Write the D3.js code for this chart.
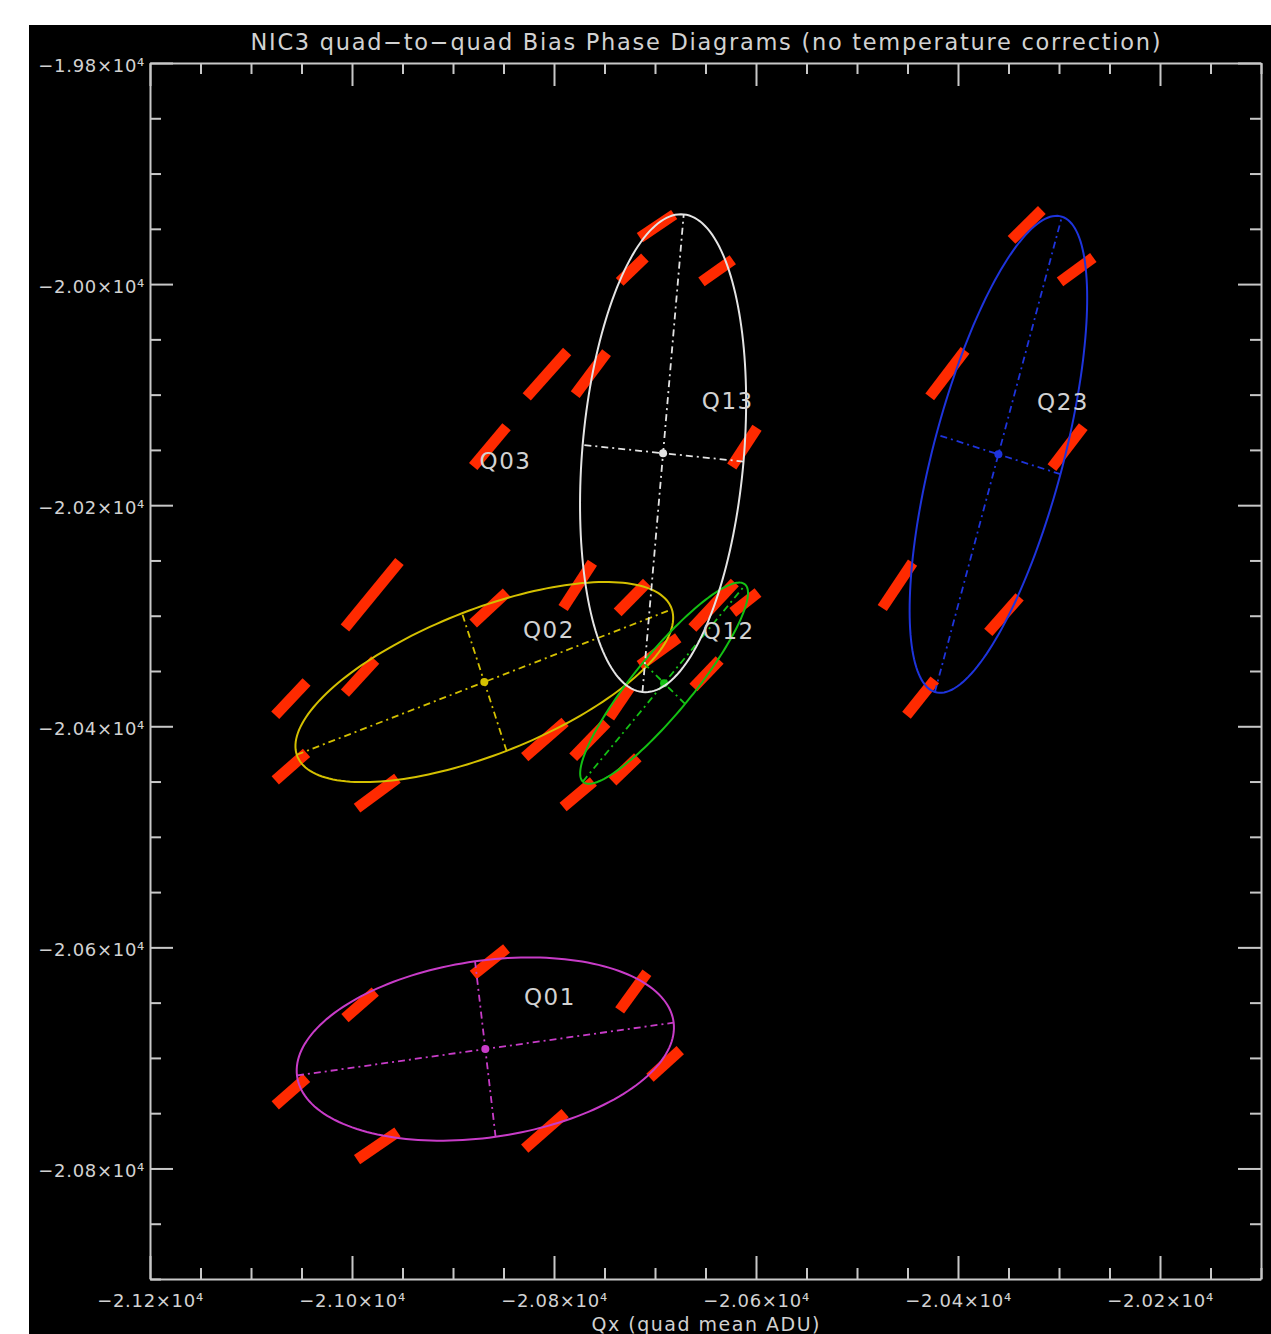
<!DOCTYPE html>
<html>
<head>
<meta charset="utf-8">
<script src="https://cdn.jsdelivr.net/npm/d3@7"></script>
<style>
  html, body { margin: 0; padding: 0; background: #ffffff; }
  svg { display: block; }
  text { font-family: "DejaVu Sans", "Liberation Sans", sans-serif; fill: #d2d2d2; }
</style>
</head>
<body>
<svg id="chart" width="1271" height="1334"></svg>
<script>
// ---- Axis ranges and tick values (ADU) ----
const xDomain = [-21200, -20100];
const yDomain = [-19800, -20900];
const xMajorTicks = [-21200, -21000, -20800, -20600, -20400, -20200];
const xTickLabels = ["\u22122.12\u00d710\u2074", "\u22122.10\u00d710\u2074", "\u22122.08\u00d710\u2074",
                     "\u22122.06\u00d710\u2074", "\u22122.04\u00d710\u2074", "\u22122.02\u00d710\u2074"];
const yMajorTicks = [-19800, -20000, -20200, -20400, -20600, -20800];
const yTickLabels = ["\u22121.98\u00d710\u2074", "\u22122.00\u00d710\u2074", "\u22122.02\u00d710\u2074",
                     "\u22122.04\u00d710\u2074", "\u22122.06\u00d710\u2074", "\u22122.08\u00d710\u2074"];
const minorStep = 50;

const titleText = "NIC3 quad\u2212to\u2212quad Bias Phase Diagrams (no temperature correction)";
const xTitleText = "Qx  (quad mean ADU)";

// ---- Quad pairs: fitted ellipse centres, semi-axes and tilt (data units / degrees) ----
const quadNames = ["Q01", "Q02", "Q03", "Q12", "Q13", "Q23"];
const centerX   = [-20868, -20869, -20912, -20691, -20692, -20360];
const centerY   = [-20692, -20360, -20207, -20361, -20153, -20154];
const semiMajor = [188, 197, null, 120, 217, 224];
const semiMinor = [80, 66, null, 28, 80, 64];
const tiltDeg   = [7.3, 19.5, null, 47.9, 84.6, 73.7];
const labelX    = [-20804, -20805, -20848, -20627, -20628, -20296];
const labelY    = [-20645, -20313, -20160, -20314, -20106, -20107];

// ---- Measured phase clusters per quad pair: [x1, y1, x2, y2] ----
const streaksQ01 = [
  [-20880, -20625, -20847, -20601], [-21007, -20664, -20977, -20640],
  [-20735, -20657, -20708, -20623], [-21076, -20743, -21045, -20718],
  [-20705, -20718, -20675, -20693], [-20995, -20792, -20955, -20767],
  [-20829, -20782, -20789, -20750]
];
const streaksQ02 = [
  [-20880, -20307, -20847, -20279], [-21007, -20370, -20977, -20340],
  [-21076, -20449, -21045, -20424], [-20995, -20474, -20955, -20447],
  [-20829, -20428, -20789, -20396], [-20791, -20293, -20762, -20252],
  [-20737, -20297, -20708, -20270]
];
const streaksQ03 = [
  [-20827, -20102, -20787, -20061], [-20880, -20165, -20847, -20129],
  [-21007, -20311, -20953, -20251], [-21076, -20390, -21045, -20360]
];
const streaksQ12 = [
  [-20663, -20311, -20621, -20270], [-20623, -20297, -20598, -20279],
  [-20662, -20365, -20636, -20340], [-20745, -20392, -20725, -20365],
  [-20742, -20450, -20717, -20428], [-20791, -20473, -20761, -20450],
  [-20781, -20428, -20748, -20397]
];
const streaksQ13 = [
  [-20715, -19958, -20681, -19937], [-20735, -19998, -20710, -19976],
  [-20654, -19998, -20623, -19978], [-20779, -20100, -20748, -20062],
  [-20624, -20165, -20599, -20130], [-20715, -20345, -20677, -20320]
];
const streaksQ23 = [
  [-20347, -19960, -20317, -19933], [-20299, -19998, -20266, -19976],
  [-20428, -20102, -20393, -20060], [-20307, -20166, -20276, -20129],
  [-20475, -20293, -20445, -20252], [-20370, -20315, -20339, -20283],
  [-20451, -20390, -20423, -20358]
];
const streaksByQuad = [streaksQ01, streaksQ02, streaksQ03, streaksQ12, streaksQ13, streaksQ23];

// ---- Styling ----
const quadColor = {
  Q01: "#c83cc8", Q02: "#d4c000", Q03: "#ff2800",
  Q12: "#14c014", Q13: "#e4e4e4", Q23: "#1e34dc"
};
const pointColor = "#ff2a00";
const axisColor = "#c8c8c8";

// ---- Canvas ----
const W = 1271, H = 1334;
const svg = d3.select("#chart");
svg.append("rect").attr("x", 29).attr("y", 25)
  .attr("width", W - 29).attr("height", H - 25).attr("fill", "#000");

const x = d3.scaleLinear().domain(xDomain).range([150, 1261]);
const y = d3.scaleLinear().domain(yDomain).range([63, 1279]);
const [x0, x1] = x.range();
const [y0, y1] = y.range();

const xMinorTicks = d3.range(xDomain[0], xDomain[1] + 1, minorStep).filter(v => !xMajorTicks.includes(v));
const yMinorTicks = d3.range(yDomain[0], yDomain[1] - 1, -minorStep).filter(v => !yMajorTicks.includes(v));

function styleAxis(g) {
  g.select(".domain").attr("stroke", axisColor).attr("stroke-width", 2);
  g.selectAll(".tick line").attr("stroke", axisColor).attr("stroke-width", 2);
  g.selectAll(".tick text").attr("fill", "#d2d2d2").attr("font-size", 18)
    .attr("font-family", "\"DejaVu Sans\", sans-serif").style("letter-spacing", "0.7px");
}
function noDomain(g) { g.select(".domain").remove(); }

const majorLen = 23, minorLen = 11;

// bottom
svg.append("g").attr("transform", `translate(0,${y1})`)
  .call(d3.axisBottom(x).tickValues(xMajorTicks).tickSizeInner(-majorLen).tickSizeOuter(0)
        .tickPadding(15).tickFormat((d, i) => xTickLabels[i]))
  .call(styleAxis);
svg.append("g").attr("transform", `translate(0,${y1})`)
  .call(d3.axisBottom(x).tickValues(xMinorTicks).tickSizeInner(-minorLen).tickSizeOuter(0).tickFormat(""))
  .call(styleAxis).call(noDomain);
// top
svg.append("g").attr("transform", `translate(0,${y0})`)
  .call(d3.axisTop(x).tickValues(xMajorTicks).tickSizeInner(-majorLen).tickSizeOuter(0).tickFormat(""))
  .call(styleAxis);
svg.append("g").attr("transform", `translate(0,${y0})`)
  .call(d3.axisTop(x).tickValues(xMinorTicks).tickSizeInner(-minorLen).tickSizeOuter(0).tickFormat(""))
  .call(styleAxis).call(noDomain);
// left
svg.append("g").attr("transform", `translate(${x0},0)`)
  .call(d3.axisLeft(y).tickValues(yMajorTicks).tickSizeInner(-majorLen).tickSizeOuter(0)
        .tickPadding(5).tickFormat((d, i) => yTickLabels[i]))
  .call(styleAxis)
  .call(g => g.selectAll(".tick text").attr("dy", "0.45em"));
svg.append("g").attr("transform", `translate(${x0},0)`)
  .call(d3.axisLeft(y).tickValues(yMinorTicks).tickSizeInner(-minorLen).tickSizeOuter(0).tickFormat(""))
  .call(styleAxis).call(noDomain);
// right
svg.append("g").attr("transform", `translate(${x1},0)`)
  .call(d3.axisRight(y).tickValues(yMajorTicks).tickSizeInner(-majorLen).tickSizeOuter(0).tickFormat(""))
  .call(styleAxis);
svg.append("g").attr("transform", `translate(${x1},0)`)
  .call(d3.axisRight(y).tickValues(yMinorTicks).tickSizeInner(-minorLen).tickSizeOuter(0).tickFormat(""))
  .call(styleAxis).call(noDomain);

// titles
svg.append("text").attr("x", (x0 + x1) / 2).attr("y", 50)
  .attr("text-anchor", "middle").attr("font-size", 22.5)
  .attr("textLength", 910).attr("lengthAdjust", "spacing")
  .text(titleText);
svg.append("text").attr("x", (x0 + x1) / 2).attr("y", 1331)
  .attr("text-anchor", "middle").attr("font-size", 19)
  .attr("textLength", 228).attr("lengthAdjust", "spacing")
  .text(xTitleText);

// ---- Phase clusters ----
const plot = svg.append("g");
streaksByQuad.forEach(list => {
  plot.append("g").selectAll("line").data(list).join("line")
    .attr("x1", d => x(d[0])).attr("y1", d => y(d[1]))
    .attr("x2", d => x(d[2])).attr("y2", d => y(d[3]))
    .attr("stroke", pointColor).attr("stroke-width", 11).attr("stroke-linecap", "butt");
});

// ---- Fitted ellipses with principal axes ----
const lineGen = d3.line().x(d => x(d[0])).y(d => y(d[1])).curve(d3.curveLinearClosed);
quadNames.forEach((name, i) => {
  if (semiMajor[i] == null) return;
  const a = semiMajor[i], b = semiMinor[i], th = tiltDeg[i] * Math.PI / 180;
  const c = Math.cos(th), s = Math.sin(th);
  const cx = centerX[i], cy = centerY[i];
  const pts = d3.range(0, 360, 2).map(deg => {
    const t = deg * Math.PI / 180;
    const u = a * Math.cos(t), v = b * Math.sin(t);
    return [cx + u * c - v * s, cy + u * s + v * c];
  });
  const col = quadColor[name];
  const g = plot.append("g");
  g.append("path").attr("d", lineGen(pts)).attr("fill", "none")
    .attr("stroke", col).attr("stroke-width", 2);
  const axesEnds = [
    [[cx - a * c, cy - a * s], [cx + a * c, cy + a * s]],
    [[cx + b * s, cy - b * c], [cx - b * s, cy + b * c]]
  ];
  g.selectAll("line").data(axesEnds).join("line")
    .attr("x1", d => x(d[0][0])).attr("y1", d => y(d[0][1]))
    .attr("x2", d => x(d[1][0])).attr("y2", d => y(d[1][1]))
    .attr("stroke", col).attr("stroke-width", 1.8)
    .attr("stroke-dasharray", "7,4,2,4");
  g.append("circle").attr("cx", x(cx)).attr("cy", y(cy)).attr("r", 4).attr("fill", col);
});

// ---- Quad pair labels ----
svg.append("g").selectAll("text").data(quadNames).join("text")
  .attr("x", (d, i) => x(labelX[i])).attr("y", (d, i) => y(labelY[i]))
  .attr("text-anchor", "middle").attr("dominant-baseline", "central")
  .attr("font-size", 23).style("letter-spacing", "1.5px")
  .text(d => d);
</script>
</body>
</html>
